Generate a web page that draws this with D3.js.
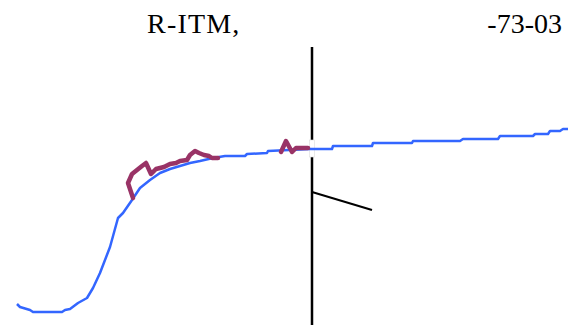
<!DOCTYPE html>
<html>
<head>
<meta charset="utf-8">
<script src="https://cdn.jsdelivr.net/npm/d3@7"></script>
<style>
  html, body { margin: 0; padding: 0; background: #fff; }
  svg { display: block; }
</style>
</head>
<body>
<div id="chart"></div>
<script>
// title pieces
const titleParts = ['R-ITM,', '-73-03'];

// blue series: [t, value]
const blueSeries = [
  [0, 8], [3, 5], [13, 2], [16, 0], [45, 0], [48, 2], [53, 3], [61, 9],
  [70, 14], [76, 24], [83, 39], [93, 65], [101, 94], [106, 99], [115, 112],
  [123, 124], [133, 132], [143, 139], [153, 143], [163, 146], [173, 149],
  [183, 151], [196, 154], [208, 156], [228, 156], [230, 158], [250, 159],
  [251, 161], [293, 163], [315, 163], [316, 166], [355, 166], [356, 169],
  [395, 169], [396, 171], [443, 171], [446, 173], [481, 173], [483, 176],
  [516, 176], [518, 178], [531, 178], [533, 181], [543, 181], [546, 183],
  [551, 183]
];

// purple series, two pieces
const purpleA = [
  [116, 114], [111, 129], [115, 138], [120, 142], [125, 146], [129, 149],
  [134, 138], [139, 143], [147, 145], [153, 148], [159, 149], [163, 151],
  [170, 152], [173, 157], [178, 161], [182, 159], [187, 157], [192, 156],
  [195, 154], [201, 154]
];
const purpleB = [[264, 160], [269, 171], [275, 160], [279, 164], [291, 164]];

// marker lines
const markerT = 295;
const markerRange = [-13, 265];
const pointer = [[295, 120], [355, 102]];
const gapRange = [155, 172];

const W = 568, H = 325;

const svg = d3.select('#chart')
  .append('svg')
  .attr('width', W)
  .attr('height', H);

const xScale = d3.scaleLinear().domain([0, 551]).range([17, 568]);
const yScale = d3.scaleLinear().domain([0, 183]).range([312, 129]);

const line = d3.line()
  .x(d => xScale(d[0]))
  .y(d => yScale(d[1]));

// title
svg.append('text')
  .attr('x', 147)
  .attr('y', 33)
  .style('font-family', '"Liberation Serif", "Times New Roman", serif')
  .style('font-size', '28px')
  .style('letter-spacing', '1.2px')
  .text(titleParts[0]);

svg.append('text')
  .attr('x', 562)
  .attr('y', 33)
  .attr('text-anchor', 'end')
  .style('font-family', '"Liberation Serif", "Times New Roman", serif')
  .style('font-size', '28px')
  .text(titleParts[1]);

// vertical marker
svg.append('line')
  .attr('x1', xScale(markerT)).attr('x2', xScale(markerT))
  .attr('y1', yScale(markerRange[1])).attr('y2', yScale(markerRange[0]))
  .attr('stroke', '#000')
  .attr('stroke-width', 2.5);

svg.append('rect')
  .attr('x', xScale(markerT) - 2.5)
  .attr('y', yScale(gapRange[1]))
  .attr('width', 5)
  .attr('height', yScale(gapRange[0]) - yScale(gapRange[1]))
  .attr('fill', '#fff')
  .attr('stroke', '#ddd')
  .attr('stroke-width', 0.6);

svg.append('path')
  .datum(pointer)
  .attr('d', line)
  .attr('fill', 'none')
  .attr('stroke', '#000')
  .attr('stroke-width', 2);

// series
svg.append('path')
  .datum(blueSeries)
  .attr('d', line)
  .attr('fill', 'none')
  .attr('stroke', '#3366ff')
  .attr('stroke-width', 2.5)
  .attr('stroke-linejoin', 'round');

[purpleA, purpleB].forEach(seg => {
  svg.append('path')
    .datum(seg)
    .attr('d', line)
    .attr('fill', 'none')
    .attr('stroke', '#993366')
    .attr('stroke-width', 4.5)
    .attr('stroke-linejoin', 'round')
    .attr('stroke-linecap', 'round');
});
</script>
</body>
</html>
